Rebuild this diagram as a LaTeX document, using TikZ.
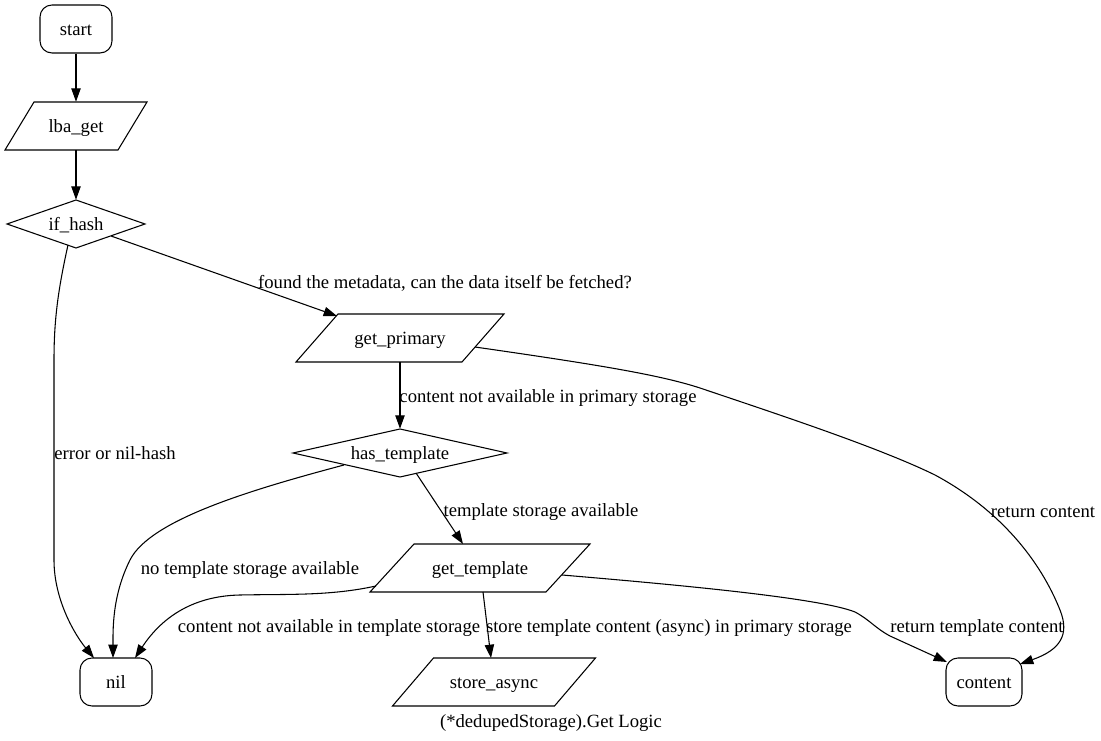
\documentclass[tikz,border=0pt]{standalone}
\usepackage{fontspec}
\setmainfont{Liberation Serif}
\usetikzlibrary{arrows.meta,calc}
\newcommand\mypara[3]{\draw[outline] ($(#1.center)+(-#2+#3,-24)$) -- ($(#1.center)+(#2,-24)$) -- ($(#1.center)+(#2-#3,24)$) -- ($(#1.center)+(-#2,24)$) -- cycle;}
\newcommand\mydiam[3]{\draw[outline] ($(#1.center)+(-#2,0)$) -- ($(#1.center)+(0,-#3)$) -- ($(#1.center)+(#2,0)$) -- ($(#1.center)+(0,#3)$) -- cycle;}
\begin{document}
\begin{tikzpicture}[x=0.75pt,y=-0.75pt,
  every node/.style={font=\fontsize{14}{16}\selectfont, text height=11pt, text depth=1.5pt},
  box/.style={draw, rounded corners=9pt, minimum width=54pt, minimum height=36pt, line width=0.8pt, inner sep=0pt},
  hold/.style={inner sep=0pt, minimum height=36pt},
  outline/.style={line width=0.8pt, line join=miter},
  edge/.style={line width=0.8pt, -{Triangle[length=10pt,width=7pt]}},
  lbl/.style={inner sep=0pt}]
\useasboundingbox (0,0) rectangle (1101,741);
% nodes
\node[box] (start) at (76,29) {start};
\node[hold, minimum width=106.5pt] (lba) at (76,126) {lba\_get};
\mypara{lba}{71}{29}
\node[hold, minimum width=103.5pt] (ifh) at (76,224) {if\_hash};
\mydiam{ifh}{69}{24}
\node[hold, minimum width=156pt] (gp) at (400,338) {get\_primary};
\mypara{gp}{104}{42}
\node[hold, minimum width=160.5pt] (ht) at (400,453) {has\_template};
\mydiam{ht}{107}{24}
\node[hold, minimum width=165pt] (gt) at (480,568) {get\_template};
\mypara{gt}{110}{44}
\node[box] (nil) at (116,682) {nil};
\node[hold, minimum width=152pt] (sa) at (494,682) {store\_async};
\mypara{sa}{101.5}{41}
\node[box, minimum width=57pt] (content) at (984,682) {content};
\node[lbl] (cap) at (551,721) {(*dedupedStorage).Get Logic};
% edges
\draw[edge] (start) -- (lba);
\draw[edge] (lba) -- (ifh);
\draw[edge] ($(ifh.center)+(35,12)$) -- ($(gp.center)+(-63,-22)$);
\draw[edge] ($(ifh.center)+(-8,21)$) .. controls (58,290) and (54,320) .. (54,360) -- (54,560) .. controls (54,600) and (75,635) .. ($(nil.center)+(-22,-24)$);
\draw[edge] (gp.south) -- (ht.north);
\draw[edge] ($(ht.center)+(16,20)$) -- ($(gt.center)+(-17,-24)$);
\draw[edge] ($(ht.center)+(-56,12)$) .. controls (250,490) and (150,520) .. (130,560) .. controls (112,596) and (113,630) .. ($(nil.center)+(-3,-24)$);
\draw[edge] ($(gt.center)+(-104,18)$) .. controls (330,596) and (290,594) .. (240,595) .. controls (190,596) and (160,620) .. ($(nil.center)+(19,-24)$);
\draw[edge] ($(gt.center)+(3,24)$) -- ($(sa.center)+(-3,-24)$);
\draw[edge] ($(gt.center)+(82,7)$) .. controls (680,585) and (820,598) .. (855,612) .. controls (870,620) and (875,628) .. (890,636) -- ($(content.center)+(-37,-20)$);
\draw[edge] ($(gp.center)+(75,9)$) .. controls (600,365) and (660,375) .. (700,388) .. controls (780,415) and (880,448) .. (935,475) .. controls (1000,510) and (1040,560) .. (1060,610) .. controls (1070,635) and (1060,650) .. ($(content.center)+(36,-18)$);
% labels
\node[lbl] (l1) at (445,282) {found the metadata, can the data itself be fetched?};
\node[lbl] (l2) at (115,453) {error or nil-hash};
\node[lbl] (l3) at (548,396) {content not available in primary storage};
\node[lbl] (l4) at (541,510) {template storage available};
\node[lbl] (l5) at (250,568) {no template storage available};
\node[lbl] (l6) at (329,626) {content not available in template storage};
\node[lbl] (l7) at (669,626) {store template content (async) in primary storage};
\node[lbl] (l8) at (977,626) {return template content};
\node[lbl] (l9) at (1043,511) {return content};
\end{tikzpicture}
\end{document}
